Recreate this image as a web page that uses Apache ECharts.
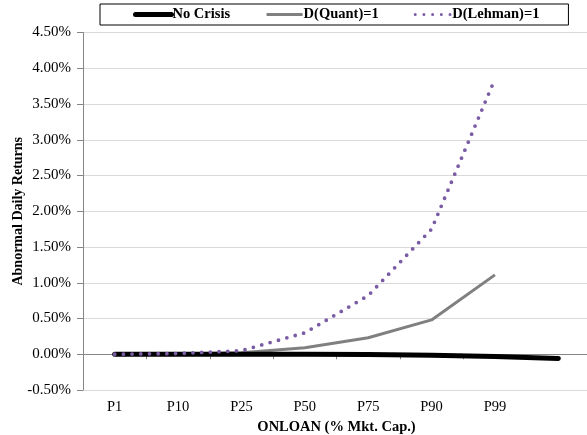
<!DOCTYPE html>
<html>
<head>
<meta charset="utf-8">
<script src="https://cdn.jsdelivr.net/npm/echarts@6/dist/echarts.min.js"></script>
<style>
  html, body { margin: 0; padding: 0; background: #fff; }
  #chart { width: 587px; height: 435px; }
</style>
</head>
<body>
<div id="chart"></div>
<script>
// categories (last one is an empty slot, only the No Crisis line reaches it)
const categories = ['P1', 'P10', 'P25', 'P50', 'P75', 'P90', 'P99', '']
// abnormal daily returns in %
const noCrisis = [0, 0, 0, 0, -0.005, -0.015, -0.03, -0.06]
const dQuant = [0, 0.005, 0.02, 0.09, 0.23, 0.48, 1.11, null]
const dLehman = [0, 0.01, 0.05, 0.30, 0.82, 1.75, 3.85, null]

const font = '"Liberation Serif", "Times New Roman", serif'

const chart = echarts.init(document.getElementById('chart'))

const option = {
  animation: false,
  textStyle: { fontFamily: font },
  legend: {
    left: 100,
    top: 4,
    padding: [3, 29, 3, 33],
    borderColor: '#000',
    borderWidth: 1,
    itemWidth: 36,
    itemHeight: 14,
    itemGap: 35,
    itemStyle: { opacity: 0 },
    textStyle: {
      fontFamily: font,
      fontWeight: 'bold',
      fontSize: 14.5,
      color: '#000',
      padding: [0, 0, 0, -4]
    },
    data: [
      { name: 'No Crisis', lineStyle: { width: 5 } },
      { name: 'D(Quant)=1', lineStyle: { width: 3 } },
      { name: 'D(Lehman)=1', lineStyle: { width: 3 } }
    ]
  },
  grid: {
    left: 83,
    top: 32.5,
    width: 507,
    bottom: 45,
    outerBoundsMode: 'none'
  },
  xAxis: [
    {
      type: 'category',
      data: categories,
      boundaryGap: true,
      axisLine: { show: false, onZero: false },
      axisTick: { show: false },
      axisLabel: {
        margin: 10,
        fontFamily: font,
        fontSize: 14.5,
        color: '#000'
      },
      name: 'ONLOAN (% Mkt. Cap.)',
      nameLocation: 'middle',
      nameGap: 30,
      nameTextStyle: {
        fontFamily: font,
        fontWeight: 'bold',
        fontSize: 14.5,
        color: '#000'
      }
    },
    {
      // axis line drawn through zero like the original
      type: 'category',
      data: categories,
      boundaryGap: true,
      position: 'bottom',
      axisLine: { show: true, onZero: true, lineStyle: { color: '#868686', width: 1 } },
      axisTick: { show: true, length: 5, lineStyle: { color: '#868686' } },
      axisLabel: { show: false }
    }
  ],
  yAxis: {
    type: 'value',
    min: -0.5,
    max: 4.5,
    interval: 0.5,
    axisLine: { show: true, lineStyle: { color: '#868686', width: 1 } },
    axisTick: { show: true, length: 6, lineStyle: { color: '#868686' } },
    splitLine: { show: true, lineStyle: { color: '#d9d9d9', width: 1 } },
    axisLabel: {
      margin: 12,
      fontFamily: font,
      fontSize: 15,
      color: '#000',
      formatter: v => v.toFixed(2) + '%'
    },
    name: 'Abnormal Daily Returns',
    nameLocation: 'middle',
    nameGap: 58,
    nameMoveOverlap: false,
    nameTextStyle: {
      fontFamily: font,
      fontWeight: 'bold',
      fontSize: 14,
      color: '#000'
    }
  },
  series: [
    {
      name: 'No Crisis',
      type: 'line',
      data: noCrisis,
      symbol: 'none',
      z: 3,
      itemStyle: { color: '#000' },
      lineStyle: { color: '#000', width: 5, cap: 'round' }
    },
    {
      name: 'D(Quant)=1',
      type: 'line',
      data: dQuant,
      symbol: 'none',
      z: 2,
      itemStyle: { color: '#808080' },
      lineStyle: { color: '#808080', width: 3 }
    },
    {
      name: 'D(Lehman)=1',
      type: 'line',
      data: dLehman,
      symbol: 'none',
      z: 4,
      itemStyle: { color: '#7a5ca5' },
      lineStyle: { color: '#7a5ca5', width: 3.8, type: [0, 8.7], cap: 'round' }
    }
  ]
}

chart.setOption(option)
</script>
</body>
</html>
